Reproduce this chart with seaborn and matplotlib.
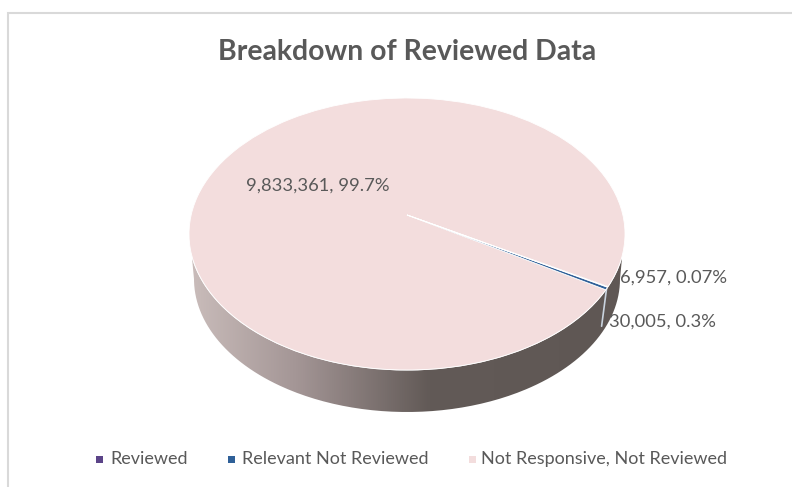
import numpy as np
import matplotlib.pyplot as plt
from matplotlib.patches import Ellipse, PathPatch, Rectangle
from matplotlib.path import Path
from matplotlib.colors import LinearSegmentedColormap
import seaborn as sns

categories = ['Reviewed', 'Relevant Not Reviewed', 'Not Responsive, Not Reviewed']
counts = [6957, 30005, 9833361]
pct_labels = ['0.07%', '0.3%', '99.7%']
colors = ['#5b4488', '#2f6098', '#f3dddd']
title = 'Breakdown of Reviewed Data'

sns.set_theme(style='white')
plt.rcParams['font.family'] = ['Lato', 'DejaVu Sans']
text_color = '#595959'

fig = plt.figure(figsize=(7.92, 4.87), dpi=100)
# whole figure in pixels so the ellipse can be placed like the reference
ax = fig.add_axes([0, 0, 1, 1])

cx, cy, rx, ry = 407, 234, 218, 136
# lower face of the disc, a bit smaller because of the tilt
low_cy, low_rx, low_ry = 279, 213, 133
# how far the pie centre sits above the ellipse centre (tilted view)
k = -0.14


def to_screen(xy):
    u, v = xy[:, 0], -xy[:, 1]
    d = 1 + k * v
    return np.column_stack([cx + rx * u * np.sqrt(1 - k ** 2) / d, cy + ry * (v + k) / d])


wedges, _ = ax.pie(counts, colors=colors, startangle=-30, counterclock=False)
flat = [(w.get_path(), w.get_patch_transform(), c) for w, c in zip(wedges, colors)]
for w in wedges:
    w.remove()

ax.set_aspect('auto')
ax.axis('off')

# side of the disc
t = np.linspace(0, np.pi, 200)
side = np.vstack([
    [[cx + 215, 258]],
    np.column_stack([cx + low_rx * np.cos(t), low_cy + low_ry * np.sin(t)]),
    [[cx - 215, 258]],
])
cmap = LinearSegmentedColormap.from_list(
    'side', [(0, '#cabdbb'), (0.25, '#a39595'), (0.55, '#625a57'), (1, '#5f5754')])
im = ax.imshow(np.linspace(0, 1, 256)[None, :], cmap=cmap, aspect='auto',
               extent=[cx - rx, cx + rx, low_cy + low_ry, cy], zorder=1)
ax.set_xlim(0, 792)
ax.set_ylim(487, 0)
clip = PathPatch(Path(side), transform=ax.transData, fc='none', ec='none')
ax.add_patch(clip)
im.set_clip_path(clip)

# small slices carried down the side
rim = to_screen(flat[1][1].transform(flat[1][0].vertices))
rim_x = rim[np.argmax(rim[:, 0])]
ax.plot([rim_x[0] - 1, rim_x[0] - 6], [rim_x[1] + 1, rim_x[1] + 39], color='#c9d3de', lw=1.2, zorder=2)

# top face, thin pale rim first
ax.add_patch(Ellipse((cx, cy), 2 * rx + 1, 2 * ry + 1, fc='white', ec='none', zorder=2))
for path, trans, c in reversed(flat):
    verts = to_screen(trans.transform(path.vertices))
    ax.add_patch(PathPatch(Path(verts, path.codes), fc=c, ec='white', lw=0.6, zorder=3))

# value labels
fs = 13.2
ax.text(246, 186, f'{counts[2]:,}, {pct_labels[2]}', fontsize=fs, color=text_color, va='center', zorder=4)
ax.text(620, 278, f'{counts[0]:,}, {pct_labels[0]}', fontsize=fs, color=text_color, va='center', zorder=4)
ax.text(609, 322, f'{counts[1]:,}, {pct_labels[1]}', fontsize=fs, color=text_color, va='center', zorder=4)

ax.text(407, 52, title, fontsize=20.4, fontweight='bold', color=text_color, ha='center', va='center')

# legend
leg_marks = [96, 228, 469]
leg_text = [110, 242, 481]
for c, name, mx, tx in zip(colors, categories, leg_marks, leg_text):
    ax.add_patch(Rectangle((mx, 456), 6.5, 6.5, fc=c, ec='none'))
    ax.text(tx, 459, name, fontsize=13, color=text_color, va='center')

# chart frame, only top and left show in the crop
ax.plot([8, 8, 792], [487, 13, 13], color='#d9d9d9', lw=1.5, solid_joinstyle='miter')

fig.savefig('out.png', dpi=100)
